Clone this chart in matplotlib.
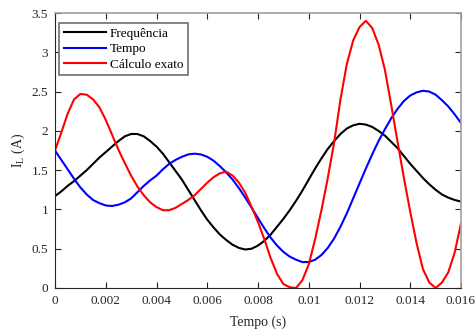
import numpy as np
import matplotlib
matplotlib.use('Agg')
from matplotlib import pyplot as plt

plt.rcParams['font.family'] = ['Liberation Serif', 'DejaVu Serif']
plt.rcParams['mathtext.fontset'] = 'custom'
plt.rcParams['mathtext.rm'] = 'Liberation Serif'

# tempo (s), passo de 0.00025
t = np.arange(65) * 0.00025

# Frequência
freq = [1.17, 1.23, 1.30, 1.36, 1.43, 1.50, 1.58, 1.66, 1.73, 1.80, 1.87,
        1.93, 1.96, 1.96, 1.93, 1.87, 1.80, 1.71, 1.60, 1.49, 1.38, 1.25,
        1.12, 0.99, 0.87, 0.77, 0.68, 0.61, 0.55, 0.51, 0.49, 0.50, 0.54,
        0.60, 0.68, 0.78, 0.88, 0.99, 1.11, 1.24, 1.38, 1.52, 1.65, 1.77,
        1.87, 1.96, 2.03, 2.07, 2.09, 2.08, 2.05, 2.00, 1.94, 1.86, 1.78,
        1.68, 1.58, 1.49, 1.40, 1.32, 1.25, 1.19, 1.15, 1.12, 1.10]

# Tempo
tempo = [1.75, 1.63, 1.51, 1.39, 1.28, 1.19, 1.12, 1.08, 1.05, 1.044, 1.06,
         1.09, 1.14, 1.22, 1.30, 1.37, 1.43, 1.51, 1.58, 1.63, 1.67, 1.70,
         1.71, 1.70, 1.67, 1.62, 1.55, 1.47, 1.38, 1.27, 1.15, 1.02, 0.89,
         0.76, 0.64, 0.54, 0.46, 0.40, 0.36, 0.33, 0.33, 0.36, 0.42, 0.51,
         0.63, 0.78, 0.95, 1.14, 1.33, 1.52, 1.70, 1.87, 2.02, 2.16, 2.28,
         2.38, 2.45, 2.49, 2.51, 2.50, 2.46, 2.39, 2.31, 2.21, 2.10]

# Cálculo exato
exato = [1.75, 1.98, 2.22, 2.40, 2.47, 2.46, 2.40, 2.30, 2.14, 1.95, 1.76,
         1.59, 1.43, 1.29, 1.18, 1.09, 1.03, 0.99, 0.99, 1.02, 1.07, 1.12,
         1.18, 1.26, 1.34, 1.41, 1.46, 1.48, 1.43, 1.34, 1.21, 1.03, 0.84,
         0.62, 0.38, 0.18, 0.05, 0.01, 0.00, 0.10, 0.30, 0.62, 0.99, 1.40,
         1.85, 2.40, 2.85, 3.15, 3.32, 3.40, 3.31, 3.10, 2.78, 2.33, 1.86,
         1.40, 0.97, 0.57, 0.24, 0.07, 0.00, 0.07, 0.20, 0.45, 0.82]

xticks = [0, 0.002, 0.004, 0.006, 0.008, 0.01, 0.012, 0.014, 0.016]
xtick_labels = ['0', '0.002', '0.004', '0.006', '0.008', '0.01', '0.012', '0.014', '0.016']
yticks = [0, 0.5, 1, 1.5, 2, 2.5, 3, 3.5]
ytick_labels = ['0', '0.5', '1', '1.5', '2', '2.5', '3', '3.5']

fig = plt.figure(figsize=(4.76, 3.29), dpi=100)
ax = fig.add_axes([55 / 476, 1 - 288 / 329, 406 / 476, 275 / 329])

ax.plot(t, freq, color='black', lw=1.5, label='Frequência')
ax.plot(t, tempo, color='blue', lw=1.5, label='Tempo')
ax.plot(t, exato, color='red', lw=1.5, label='Cálculo exato')

ax.set_xlim(0, 0.016)
ax.set_ylim(0, 3.5)
ax.set_xticks(xticks)
ax.set_xticklabels(xtick_labels)
ax.set_yticks(yticks)
ax.set_yticklabels(ytick_labels)
ax.tick_params(direction='in', top=True, right=True, length=4, width=0.8,
               labelsize=9.5, colors='#262626', pad=5)
for s in ['left', 'bottom']:
    ax.spines[s].set_color('#262626')
for s in ['top', 'right']:
    ax.spines[s].set_color('#a0a0a0')
    ax.spines[s].set_linewidth(1.2)

ax.set_xlabel('Tempo (s)', fontsize=10, color='#262626', labelpad=6)
ax.set_ylabel(r'I$_\mathregular{L}$ (A)', fontsize=10, color='#262626', labelpad=3)

leg = ax.legend(loc='upper left', bbox_to_anchor=(0.01, 0.964), borderaxespad=0,
                fontsize=9.5, frameon=True, fancybox=False,
                edgecolor='#6e6e6e', framealpha=1, handlelength=3.2,
                handletextpad=0.3, labelspacing=0.25, borderpad=0.35)
leg.get_frame().set_linewidth(1.2)

plt.savefig('out.png', dpi=100)
